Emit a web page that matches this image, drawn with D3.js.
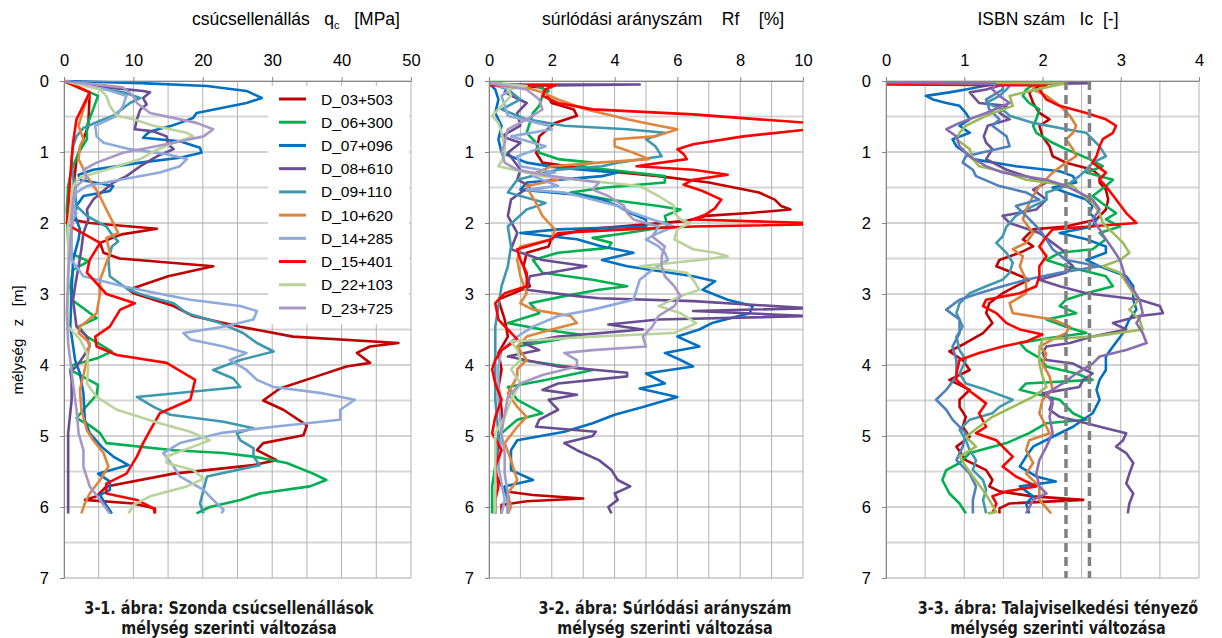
<!DOCTYPE html>
<html>
<head>
<meta charset="UTF-8">
<title>Szonda profilok</title>
<script src="https://d3js.org/d3.v7.min.js"></script>
<style>
  body { margin: 0; background: #fff; }
  svg text { font-family: "Liberation Sans", Arial, sans-serif; white-space: pre; }
</style>
</head>
<body>
<svg id="chart" width="1222" height="638"></svg>
<script>
// stations (legend order = drawing order)
const stations = ["D_03+503", "D_06+300", "D_07+096", "D_08+610", "D_09+110",
                  "D_10+620", "D_14+285", "D_15+401", "D_22+103", "D_23+725"];
const lineColors = ["#C00000", "#00B050", "#0070C0", "#6A4C93", "#3D98AE",
                    "#E0853D", "#8EAADB", "#FF0000", "#B8D39B", "#A898C6"];
const icColors   = ["#C00000", "#00B050", "#0070C0", "#6E5096", "#4198AF",
                    "#D8823C", "#4F81BD", "#FF0000", "#9BBB59", "#8A6DB0"];

const depthTicks = [0, 1, 2, 3, 4, 5, 6, 7];
const qcTicks = [0, 10, 20, 30, 40, 50];
const rfTicks = [0, 2, 4, 6, 8, 10];
const icTicks = [0, 1, 2, 3, 4];
const icLimits = [2.3, 2.6];

// ---- cone resistance qc [MPa], pairs of [depth m, value]
const qc_D03 = [[0,0],[0.16,3.7],[0.63,3.5],[0.9,2.5],[1.1,1.8],[1.57,1.3],[1.95,1.1],[2.0,3.7],[2.08,13.4],[2.16,8.3],[2.28,5.2],[2.42,5.7],[2.5,8],[2.61,21.5],[2.75,15],[2.94,9.3],[2.99,10],[3.17,15.8],[3.31,18.6],[3.46,25.4],[3.6,33],[3.69,48.2],[3.74,44.1],[3.83,42.2],[3.97,44.1],[4.02,40.7],[4.16,36.4],[4.33,31.1],[4.5,28.7],[4.63,31.6],[4.85,35],[4.99,34.5],[5.1,28.7],[5.2,27.8],[5.34,30.6],[5.41,27.3],[5.53,15.8],[5.71,6.1],[5.85,4.7],[5.9,3],[5.95,10],[6.02,13.1],[6.09,13.1]];
const qc_D06 = [[0,0],[0.21,4.9],[0.4,4.2],[0.63,3.3],[0.82,3.3],[1.01,2.1],[1.25,1.1],[1.48,0.6],[1.81,0.4],[2.28,0.6],[2.42,0.9],[2.54,3.5],[2.66,1.3],[2.89,0.9],[3.08,1.1],[3.2,2.8],[3.34,4.7],[3.46,2.1],[3.6,3.3],[3.71,5.2],[3.81,6.9],[3.9,4.9],[4.0,1.3],[4.07,0.9],[4.28,4.9],[4.42,4.7],[4.63,2.8],[4.75,1.8],[4.85,3.7],[4.96,5.2],[5.1,6.1],[5.2,15.8],[5.24,23],[5.29,27.3],[5.38,32.1],[5.53,35.9],[5.62,37.8],[5.71,35.4],[5.81,28.2],[5.9,25.4],[6.0,21],[6.09,19.1]];
const qc_D07 = [[0,0],[0.03,11],[0.07,20.6],[0.14,26.3],[0.24,28.5],[0.31,26.3],[0.45,19.1],[0.52,18.6],[0.59,16.7],[0.63,15.5],[0.71,12.4],[0.75,11.9],[0.8,11.4],[0.85,16.7],[0.94,19.6],[1.01,19.8],[1.08,16.7],[1.15,11],[1.25,4.2],[1.32,2.1],[1.39,2.3],[1.48,7.1],[1.55,6.6],[1.62,2.8],[1.76,1.8],[1.9,1.6],[2.09,2.3],[2.23,2.1],[2.52,1.3],[2.99,1.1],[3.46,0.9],[3.93,1.6],[4.12,2.3],[4.4,2.8],[4.77,3],[4.96,3.7],[5.15,5.4],[5.29,7.1],[5.41,9.3],[5.53,4.9],[5.64,6.6],[5.76,6.6],[5.83,5.2],[5.95,5.9],[6.09,6.9]];
const qc_D08 = [[0,0],[0.09,6.1],[0.14,11.4],[0.16,12.4],[0.24,11.4],[0.33,11.9],[0.4,11],[0.54,10.5],[0.68,10.2],[0.71,12.9],[0.78,14.8],[0.89,15],[0.96,15.8],[1.06,13.4],[1.2,11],[1.34,9],[1.43,7.1],[1.57,5.4],[1.67,4.2],[1.81,3.3],[1.95,3.5],[2.14,2.8],[2.37,2.5],[2.61,2.1],[2.89,1.6],[3.08,1.3],[3.46,1.8],[3.6,3.3],[3.74,3.7],[3.88,2.8],[4.02,1.8],[4.09,0.9],[4.21,1.1],[4.49,1.1],[4.96,0.6],[5.43,0.6],[6.09,0.6]];
const qc_D09 = [[0,0],[0.12,6.1],[0.16,8.5],[0.24,11],[0.31,9.5],[0.4,8.3],[0.49,7.1],[0.56,5.2],[0.66,2.8],[0.78,1.8],[0.92,1.3],[1.1,1.1],[1.34,1.3],[1.57,1.6],[1.76,1.8],[1.9,3.3],[2.05,6.1],[2.19,7.1],[2.26,7.8],[2.33,6.9],[2.52,6.4],[2.75,6.6],[2.94,9.3],[3.03,11.9],[3.13,15.8],[3.27,17.7],[3.41,22.5],[3.55,25.8],[3.69,27.8],[3.81,30.2],[3.93,25.4],[4.07,21.5],[4.19,24.4],[4.31,25.4],[4.45,10.5],[4.59,12.9],[4.7,15.3],[4.8,23],[4.89,27.3],[4.96,24.9],[5.06,25.4],[5.17,27.3],[5.29,27.3],[5.41,28.2],[5.57,20.6],[5.76,20.1],[5.95,19.6],[6.09,20.1]];
const qc_D10 = [[0,0],[0.16,3.7],[0.4,2.8],[0.63,2.1],[0.82,2.8],[0.92,2.3],[1.1,2.1],[1.34,3.3],[1.57,4.9],[1.81,6.1],[2.0,7.1],[2.14,7.8],[2.21,6.1],[2.42,6.6],[2.56,6.1],[2.8,5.2],[2.99,5.2],[3.27,4.7],[3.46,2.3],[3.55,2.1],[3.69,3.7],[3.93,3.3],[4.35,2.3],[4.63,2.5],[4.92,3.3],[5.06,4.2],[5.24,5.7],[5.43,6.4],[5.62,5.2],[5.81,3.7],[5.95,3],[6.09,2.5]];
const qc_D14 = [[0,0],[0.12,6.1],[0.21,9],[0.35,8.5],[0.49,7.6],[0.63,4.5],[0.78,4.7],[0.87,5.7],[0.96,9.5],[1.03,14.8],[1.1,17.7],[1.2,16.7],[1.29,13.8],[1.39,8.1],[1.48,3.3],[1.57,1.8],[1.72,1.3],[1.86,1.8],[1.95,1.3],[2.14,1.1],[2.52,1.1],[2.75,2.8],[2.89,8.5],[2.99,13.4],[3.08,18.2],[3.17,25.4],[3.24,27.8],[3.36,27.3],[3.46,23],[3.55,17.2],[3.64,18.2],[3.74,23],[3.83,26.3],[3.93,23.9],[4.07,26.3],[4.21,27.8],[4.31,30.2],[4.4,37.4],[4.49,41.9],[4.63,39.8],[4.77,39.8],[4.87,30.2],[4.96,22.5],[5.1,16.7],[5.24,14.3],[5.43,15.8],[5.57,16.7],[5.76,20.1],[5.9,21.5],[6.04,23],[6.09,22.7]];
const qc_D15 = [[0,0],[0.16,3.7],[0.54,1.8],[0.87,1.3],[1.34,0.9],[1.81,0.6],[2.0,0.4],[2.07,1.3],[2.28,5.2],[2.52,3.7],[2.7,3.3],[3.0,6.1],[3.13,10.2],[3.22,8.1],[3.46,6.6],[3.6,4.5],[3.74,4.7],[3.86,7.6],[3.97,14.8],[4.21,18.9],[4.49,18.2],[4.68,13.8],[4.92,12.4],[5.1,11.4],[5.29,10.5],[5.53,9],[5.67,6.1],[5.81,6.1],[5.9,10.5],[6.02,12.9],[6.09,13.1]];
const qc_D22 = [[0,0],[0.12,5.2],[0.21,6.1],[0.35,6.6],[0.49,7.6],[0.54,10],[0.63,12.9],[0.73,17.7],[0.78,18.6],[0.87,15.8],[0.99,12.9],[1.1,11],[1.25,6.1],[1.36,2.3],[1.48,1.3],[1.67,1.1],[2.05,0.6],[2.52,0.6],[2.99,0.6],[3.46,0.6],[3.64,2.3],[3.83,3.3],[4.02,3.5],[4.26,3.3],[4.45,4.7],[4.63,7.6],[4.82,13.8],[4.94,18.2],[5.06,21],[5.15,18.6],[5.29,14.8],[5.38,14.8],[5.48,18.6],[5.6,20.1],[5.71,17.7],[5.85,12.4],[5.97,10],[6.09,9.3]];
const qc_D23 = [[0,0],[0.09,8.5],[0.21,10],[0.31,10.5],[0.45,12.4],[0.59,19.1],[0.68,21.5],[0.78,20.1],[0.87,15.8],[1.01,8.5],[1.15,4.7],[1.25,2.8],[1.36,3.3],[1.48,1.8],[1.67,1.3],[1.95,1.1],[2.28,0.9],[2.75,0.6],[3.27,0.4],[3.69,0.6],[3.93,0.9],[4.26,1.3],[4.63,1.8],[4.96,2.1],[5.2,2.8],[5.43,2.8],[5.71,3.7],[5.9,5.2],[6.09,6.6]];

// ---- friction ratio Rf [%]
const rf_D03 = [[0.03,0],[0.09,1.7],[0.31,2.0],[0.4,2.7],[0.49,2.8],[0.59,2.1],[0.78,1.6],[1.01,1.5],[1.15,1.7],[1.25,3.3],[1.34,5.4],[1.43,7.0],[1.57,8.6],[1.67,9.1],[1.76,9.3],[1.81,9.6],[1.86,8.3],[1.9,6.9],[1.97,6.3],[2.02,5.0],[2.09,3.1],[2.19,2.0],[2.33,1.9],[2.42,1.2],[2.61,1.1],[2.89,1.3],[3.08,0.3],[3.36,0.5],[3.6,0.6],[3.83,0.3],[4.06,0.4],[4.31,0.3],[4.63,0.4],[4.91,0.4],[5.2,0.3],[5.53,0.2],[5.78,0.5],[5.83,1.4],[5.88,3.0],[5.92,1.2],[5.97,0.4],[6.09,0.4]];
const rf_D06 = [[0.03,0],[0.07,1.5],[0.14,1.9],[0.21,1.7],[0.35,1.6],[0.45,1.4],[0.59,1.3],[0.73,1.2],[0.87,1.5],[1.01,1.6],[1.1,2.2],[1.15,3.3],[1.2,2.8],[1.25,3.8],[1.34,5.6],[1.43,5.6],[1.5,3.7],[1.57,2.6],[1.67,3.8],[1.76,5.4],[1.81,6.1],[1.9,5.6],[2.05,5.7],[2.14,4.4],[2.21,3.3],[2.28,3.9],[2.35,3.8],[2.42,2.2],[2.52,1.4],[2.7,1.7],[2.8,3.3],[2.89,4.4],[2.94,3.5],[3.03,2.4],[3.13,1.3],[3.27,1.6],[3.41,0.6],[3.5,1.7],[3.57,2.9],[3.64,2.2],[3.74,0.9],[3.93,1.0],[4.07,3.3],[4.21,1.8],[4.31,0.6],[4.49,0.9],[4.68,1.7],[4.77,0.9],[4.96,0.4],[5.2,0.2],[5.43,0.2],[5.71,0.1],[5.9,0.1],[6.09,0.1]];
const rf_D07 = [[0.03,0],[0.12,0.2],[0.26,0.3],[0.45,0.2],[0.63,0.4],[0.82,0.3],[1.01,0.4],[1.15,1.2],[1.22,2.2],[1.29,4.1],[1.34,3.6],[1.43,1.2],[1.53,1.0],[1.6,2.8],[1.67,3.6],[1.76,4.1],[1.86,4.5],[1.95,5.0],[2.05,5.0],[2.09,2.2],[2.14,1.0],[2.23,2.8],[2.33,3.6],[2.42,4.6],[2.52,3.6],[2.61,4.4],[2.75,6.5],[2.82,7.2],[2.94,6.8],[3.08,7.6],[3.17,8.4],[3.27,8.3],[3.41,7.1],[3.5,6.7],[3.6,6.0],[3.74,6.7],[3.83,5.6],[3.93,6.1],[4.02,6.5],[4.12,5.0],[4.26,5.6],[4.33,4.8],[4.45,6.0],[4.59,4.9],[4.7,4.0],[4.82,3.3],[4.94,2.4],[5.06,0.9],[5.2,0.7],[5.48,0.7],[5.62,1.4],[5.71,0.5],[5.9,0.6],[6.09,0.6]];
const rf_D08 = [[0.05,0],[0.05,4.8],[0.07,0.6],[0.16,0.5],[0.31,1.2],[0.45,0.9],[0.63,1.0],[0.78,0.4],[0.87,1.0],[1.01,0.6],[1.25,1.0],[1.39,0.9],[1.48,1.3],[1.67,0.7],[1.9,0.6],[2.14,0.9],[2.37,0.7],[2.52,1.7],[2.61,3.1],[2.75,1.3],[2.94,1.2],[3.03,2.8],[3.06,3.5],[3.1,6.5],[3.2,10.2],[3.24,6.5],[3.31,10.2],[3.36,5.4],[3.43,3.8],[3.5,4.9],[3.6,2.2],[3.69,1.1],[3.79,1.6],[3.88,0.6],[4.02,2.2],[4.11,4.4],[4.16,4.4],[4.26,2.2],[4.35,1.7],[4.42,2.8],[4.49,1.9],[4.63,2.2],[4.77,1.6],[4.87,1.5],[4.94,3.4],[5.0,3.3],[5.1,2.4],[5.2,2.8],[5.34,3.5],[5.48,3.9],[5.62,4.1],[5.71,4.5],[5.81,4.0],[5.9,4.1],[6.0,3.8],[6.09,3.9]];
const rf_D09 = [[0.03,0],[0.12,0.6],[0.26,1.0],[0.4,0.4],[0.54,1.2],[0.63,2.4],[0.68,4.4],[0.73,5.6],[0.82,5.0],[0.92,5.3],[1.06,5.5],[1.15,4.1],[1.2,3.6],[1.25,2.2],[1.39,0.9],[1.57,0.6],[1.72,1.8],[1.81,1.2],[2.05,0.6],[2.33,0.7],[2.61,0.6],[2.89,0.4],[3.17,0.3],[3.46,0.2],[3.83,0.2],[4.06,0.2],[4.49,0.2],[4.96,0.3],[5.43,0.2],[5.81,0.2],[6.09,0.2]];
const rf_D10 = [[0.03,0],[0.07,1.0],[0.16,1.7],[0.26,2.2],[0.4,3.1],[0.54,4.4],[0.63,5.4],[0.68,6.0],[0.78,5.3],[0.82,4.0],[0.92,4.0],[1.01,4.6],[1.1,5.1],[1.15,3.5],[1.2,2.0],[1.29,1.5],[1.39,2.2],[1.48,1.2],[1.57,1.3],[1.72,1.5],[1.9,1.7],[2.09,2.1],[2.23,2.0],[2.33,1.0],[2.52,0.9],[2.75,1.0],[2.99,1.2],[3.13,1.0],[3.22,1.4],[3.31,2.6],[3.41,2.8],[3.5,2.0],[3.6,1.2],[3.74,0.9],[3.93,1.2],[4.06,0.9],[4.16,0.9],[4.4,0.6],[4.59,0.9],[4.73,1.2],[4.87,0.9],[5.1,0.5],[5.34,0.7],[5.62,0.9],[5.81,0.6],[6.0,0.7],[6.09,0.6]];
const rf_D14 = [[0.03,0],[0.12,0.7],[0.21,0.4],[0.35,0.5],[0.49,0.6],[0.63,1.9],[0.68,2.0],[0.78,0.7],[0.92,1.8],[1.06,0.9],[1.2,1.0],[1.29,2.1],[1.34,1.4],[1.48,2.2],[1.53,1.2],[1.57,2.4],[1.67,3.3],[1.76,4.1],[1.86,4.6],[1.95,5.2],[2.05,5.9],[2.14,5.4],[2.23,5.0],[2.33,5.4],[2.42,5.6],[2.52,5.7],[2.66,5.2],[2.8,4.8],[2.94,4.7],[3.08,4.6],[3.22,3.3],[3.31,2.2],[3.46,1.4],[3.6,0.9],[3.79,0.4],[4.02,0.3],[4.49,0.3],[4.96,0.4],[5.43,0.3],[5.9,0.5],[6.09,0.4]];
const rf_D15 = [[0.06,0],[0.06,2.1],[0.12,1.8],[0.21,1.7],[0.31,2.2],[0.4,3.3],[0.47,6.5],[0.54,8.6],[0.59,10.2],[0.68,10.2],[0.78,8.1],[0.89,6.5],[0.96,6.0],[1.03,6.2],[1.1,6.3],[1.18,5.0],[1.2,4.7],[1.25,6.5],[1.32,7.6],[1.39,6.5],[1.46,6.2],[1.55,6.8],[1.67,7.4],[1.79,7.2],[1.88,6.9],[1.95,6.5],[2.0,10.2],[2.02,10.2],[2.05,6.5],[2.09,4.4],[2.14,2.2],[2.23,2.0],[2.37,0.9],[2.52,1.0],[2.7,1.2],[2.89,1.2],[2.99,0.5],[3.13,0.2],[3.36,0.3],[3.5,0.6],[3.64,0.9],[3.79,0.4],[3.93,0.2],[4.06,0.1],[4.26,0.2],[4.49,0.4],[4.73,0.2],[4.96,0.1],[5.2,0.4],[5.43,0.2],[5.71,0.3],[5.9,0.2],[6.09,0.2]];
const rf_D22 = [[0.03,0],[0.07,1.2],[0.12,0.6],[0.21,0.7],[0.35,0.4],[0.49,0.1],[0.59,0.3],[0.73,0.4],[0.92,0.5],[1.06,0.5],[1.2,0.3],[1.34,1.7],[1.48,4.8],[1.62,5.4],[1.76,5.9],[1.86,5.9],[1.95,6.1],[2.0,6.4],[2.09,6.0],[2.23,5.9],[2.37,6.5],[2.42,7.2],[2.47,7.6],[2.52,6.7],[2.61,4.8],[2.7,6.3],[2.8,6.5],[2.94,6.7],[3.03,6.1],[3.17,5.4],[3.27,6.1],[3.41,6.6],[3.55,5.9],[3.6,3.3],[3.67,0.7],[3.79,0.9],[3.93,1.0],[4.06,0.7],[4.26,1.0],[4.49,0.7],[4.73,0.5],[4.96,0.2],[5.2,0.2],[5.43,0.2],[5.71,0.2],[6.09,0.2]];
const rf_D23 = [[0.03,0],[0.12,1.2],[0.26,1.6],[0.4,1.7],[0.54,1.2],[0.68,0.6],[0.87,0.5],[1.01,0.4],[1.15,0.5],[1.25,0.9],[1.34,2.0],[1.43,3.5],[1.53,3.3],[1.62,3.8],[1.76,4.3],[1.86,4.4],[1.95,4.6],[2.05,5.4],[2.19,5.2],[2.33,5.6],[2.47,5.5],[2.61,5.5],[2.75,5.6],[2.89,5.9],[3.03,6.1],[3.17,5.9],[3.31,5.4],[3.46,5.2],[3.6,4.9],[3.74,5.0],[3.79,3.3],[3.83,2.4],[3.93,2.8],[4.02,2.8],[4.14,1.7],[4.26,1.0],[4.45,0.6],[4.68,0.5],[4.96,0.4],[5.24,0.5],[5.53,0.5],[5.81,0.6],[6.09,0.6]];

// ---- soil behaviour type index Ic [-]
const ic_D03 = [[0.02,0],[0.04,2.0],[0.16,1.83],[0.31,1.88],[0.45,1.96],[0.54,2.09],[0.63,1.96],[0.78,2.0],[0.92,2.09],[1.06,2.13],[1.15,2.3],[1.25,2.64],[1.34,2.73],[1.43,2.73],[1.53,2.81],[1.67,2.84],[1.81,2.81],[1.95,2.69],[2.05,2.3],[2.09,1.88],[2.23,1.75],[2.33,1.88],[2.42,1.71],[2.52,1.45],[2.61,1.41],[2.7,1.62],[2.8,1.83],[2.89,1.66],[2.99,1.49],[3.13,1.32],[3.27,1.28],[3.41,1.36],[3.55,1.24],[3.69,1.02],[3.81,0.81],[3.93,0.98],[4.07,1.07],[4.21,0.81],[4.35,1.07],[4.49,0.94],[4.59,0.94],[4.73,1.02],[4.87,0.98],[5.01,1.07],[5.15,0.9],[5.34,1.02],[5.48,1.28],[5.62,1.36],[5.71,1.32],[5.78,1.45],[5.85,1.88],[5.9,2.52],[5.95,1.58],[6.02,1.45],[6.09,1.45]];
const ic_D06 = [[0.02,0],[0.04,1.9],[0.12,1.79],[0.21,1.75],[0.31,1.83],[0.4,1.96],[0.54,1.92],[0.63,1.88],[0.73,1.92],[0.87,2.13],[0.96,2.3],[1.1,2.6],[1.2,2.77],[1.29,2.56],[1.39,2.9],[1.48,2.81],[1.62,2.64],[1.76,2.81],[1.86,2.94],[1.95,2.81],[2.05,2.99],[2.14,2.73],[2.23,2.81],[2.37,2.64],[2.42,2.22],[2.52,2.05],[2.61,2.3],[2.75,2.81],[2.89,2.9],[2.99,2.56],[3.08,2.3],[3.17,2.22],[3.27,2.43],[3.36,2.05],[3.46,2.3],[3.55,2.56],[3.62,2.09],[3.69,1.71],[3.79,1.79],[3.9,1.96],[4.02,2.05],[4.12,2.43],[4.21,2.64],[4.26,1.79],[4.35,1.71],[4.49,2.22],[4.68,2.39],[4.77,2.56],[4.82,2.05],[4.96,1.83],[5.1,1.54],[5.24,1.07],[5.38,0.94],[5.48,0.77],[5.62,0.72],[5.81,0.81],[5.95,0.94],[6.09,1.02]];
const ic_D07 = [[0.02,0],[0.04,1.4],[0.12,1.02],[0.16,0.81],[0.21,0.51],[0.26,0.6],[0.31,0.77],[0.35,0.94],[0.45,1.02],[0.54,1.07],[0.63,0.94],[0.73,1.07],[0.82,0.85],[0.92,0.9],[1.01,1.02],[1.1,1.11],[1.2,1.66],[1.27,2.22],[1.34,2.39],[1.43,2.43],[1.5,2.13],[1.57,2.3],[1.67,2.56],[1.76,2.64],[1.86,2.6],[1.95,2.69],[2.05,2.64],[2.14,2.22],[2.23,2.56],[2.33,2.81],[2.42,2.81],[2.52,2.56],[2.61,2.73],[2.75,3.07],[2.89,3.16],[3.08,3.16],[3.22,3.2],[3.36,3.11],[3.55,3.03],[3.74,2.9],[3.88,2.81],[4.07,2.81],[4.21,2.73],[4.35,2.69],[4.49,2.73],[4.68,2.64],[4.87,2.39],[5.01,2.13],[5.15,1.88],[5.29,1.79],[5.43,1.71],[5.57,1.92],[5.64,2.17],[5.71,1.71],[5.85,1.88],[5.95,1.79],[6.09,1.83]];
const ic_D08 = [[0.02,0],[0.03,2.6],[0.05,1.5],[0.12,1.28],[0.16,1.07],[0.21,1.11],[0.31,1.19],[0.35,1.54],[0.45,1.45],[0.54,1.58],[0.63,1.3],[0.78,1.25],[0.87,1.28],[0.96,1.36],[1.1,1.28],[1.25,1.54],[1.34,1.79],[1.43,2.05],[1.53,1.88],[1.67,2.05],[1.81,1.92],[1.9,1.49],[2.0,1.58],[2.14,1.96],[2.28,2.13],[2.42,2.3],[2.52,2.3],[2.61,2.39],[2.7,2.3],[2.8,1.96],[2.89,2.22],[2.99,2.56],[3.08,3.24],[3.17,3.5],[3.27,3.54],[3.31,3.24],[3.41,2.9],[3.5,3.07],[3.6,2.64],[3.69,2.35],[3.74,2.05],[3.83,2.0],[3.93,2.05],[3.98,2.39],[4.12,2.64],[4.21,2.52],[4.31,2.47],[4.4,2.0],[4.49,2.13],[4.63,2.09],[4.73,2.22],[4.82,2.56],[4.89,2.81],[4.96,3.07],[5.06,3.03],[5.15,2.94],[5.24,3.07],[5.38,3.16],[5.53,3.11],[5.67,3.07],[5.81,3.16],[5.95,3.11],[6.09,3.09]];
const ic_D09 = [[0.02,0],[0.04,1.6],[0.12,1.54],[0.21,1.45],[0.31,1.28],[0.4,1.49],[0.49,1.58],[0.59,1.88],[0.68,2.3],[0.73,2.56],[0.82,2.64],[0.92,2.73],[1.06,2.81],[1.15,2.64],[1.25,2.56],[1.34,2.47],[1.48,2.3],[1.57,2.05],[1.67,2.05],[1.76,1.88],[1.9,1.66],[2.05,1.54],[2.19,1.49],[2.28,1.41],[2.42,1.54],[2.56,1.62],[2.7,1.58],[2.8,1.49],[2.89,1.28],[2.99,1.07],[3.13,0.94],[3.27,0.9],[3.46,0.98],[3.6,0.9],[3.79,0.94],[3.93,1.02],[4.12,0.94],[4.26,1.02],[4.35,1.28],[4.49,1.62],[4.59,1.45],[4.68,1.36],[4.77,1.07],[4.91,0.94],[5.06,1.02],[5.2,1.07],[5.34,1.15],[5.48,1.11],[5.62,1.24],[5.76,1.28],[5.9,1.24],[6.09,1.28]];
const ic_D10 = [[0.02,0],[0.04,1.9],[0.12,1.88],[0.21,2.05],[0.35,2.22],[0.49,2.35],[0.63,2.43],[0.73,2.39],[0.82,2.3],[0.96,2.39],[1.06,2.43],[1.15,2.3],[1.29,2.13],[1.48,1.96],[1.62,1.88],[1.81,1.79],[1.95,1.75],[2.14,1.88],[2.28,1.79],[2.37,1.62],[2.47,1.75],[2.61,1.71],[2.8,1.79],[2.99,1.79],[3.13,1.58],[3.27,1.62],[3.36,2.13],[3.46,2.35],[3.55,2.3],[3.64,2.13],[3.74,1.96],[3.84,2.05],[3.98,2.0],[4.16,2.09],[4.35,2.13],[4.49,2.0],[4.68,1.96],[4.87,2.05],[4.96,2.09],[5.06,1.83],[5.2,1.79],[5.38,1.88],[5.53,1.79],[5.71,1.96],[5.9,1.96],[6.09,2.11]];
const ic_D14 = [[0.02,0],[0.04,1.5],[0.12,1.49],[0.26,1.28],[0.4,1.32],[0.54,1.45],[0.63,1.36],[0.78,1.54],[0.92,1.58],[1.06,1.02],[1.15,0.98],[1.25,1.11],[1.34,1.15],[1.48,1.45],[1.57,1.79],[1.67,1.96],[1.76,1.66],[1.9,1.79],[2.0,1.88],[2.09,1.96],[2.23,2.05],[2.37,2.13],[2.52,2.3],[2.61,2.73],[2.7,2.22],[2.8,1.79],[2.89,1.49],[2.99,1.19],[3.08,0.94],[3.22,0.77],[3.36,0.94],[3.55,0.94],[3.74,0.85],[3.93,0.9],[4.16,0.9],[4.35,0.77],[4.49,0.64],[4.63,0.77],[4.77,0.85],[4.96,1.02],[5.15,0.98],[5.34,0.9],[5.53,1.07],[5.71,1.15],[5.9,1.11],[6.09,1.11]];
const ic_D15 = [[0.05,0],[0.06,2.05],[0.12,1.96],[0.26,2.05],[0.35,2.22],[0.45,2.56],[0.54,2.81],[0.63,2.94],[0.73,2.9],[0.82,2.77],[0.92,2.73],[1.06,2.69],[1.15,2.64],[1.29,2.81],[1.39,2.73],[1.48,2.81],[1.67,2.94],[1.86,3.07],[2.0,3.2],[2.05,2.6],[2.09,2.13],[2.19,2.05],[2.33,1.96],[2.47,2.05],[2.61,1.96],[2.75,1.96],[2.89,1.92],[2.99,1.71],[3.08,1.28],[3.17,1.24],[3.27,1.41],[3.41,1.54],[3.5,1.71],[3.57,2.0],[3.67,1.79],[3.74,1.49],[3.83,1.19],[3.93,0.94],[4.12,0.9],[4.21,0.9],[4.4,1.11],[4.54,1.28],[4.68,1.19],[4.87,1.28],[4.96,1.15],[5.06,1.41],[5.15,1.49],[5.29,1.62],[5.43,1.49],[5.57,1.66],[5.71,1.92],[5.78,1.54],[5.85,1.36],[5.95,1.41],[6.09,1.36]];
const ic_D22 = [[0.02,0],[0.03,2.3],[0.12,1.92],[0.21,1.58],[0.35,1.62],[0.49,1.28],[0.63,1.02],[0.73,0.94],[0.82,0.9],[0.96,1.07],[1.1,1.11],[1.2,1.19],[1.29,1.54],[1.39,1.79],[1.48,2.39],[1.57,2.47],[1.72,2.64],[1.86,2.73],[2.0,2.77],[2.14,2.9],[2.28,3.03],[2.42,3.11],[2.52,2.99],[2.61,2.77],[2.7,2.99],[2.84,3.07],[2.99,3.16],[3.08,3.24],[3.22,3.11],[3.36,3.24],[3.5,3.28],[3.6,2.64],[3.64,2.0],[3.79,1.96],[3.98,1.96],[4.16,2.0],[4.31,2.05],[4.45,1.88],[4.59,1.62],[4.73,1.36],[4.87,1.19],[5.01,1.02],[5.15,1.15],[5.29,0.94],[5.43,1.02],[5.57,1.11],[5.76,1.24],[5.9,1.32],[6.07,1.41],[6.09,1.3]];
const ic_D23 = [[0.02,0],[0.04,1.4],[0.12,1.36],[0.21,1.45],[0.31,1.58],[0.45,1.28],[0.59,0.94],[0.68,0.77],[0.78,0.9],[0.92,0.94],[1.06,1.07],[1.2,1.28],[1.29,1.49],[1.39,2.05],[1.48,2.3],[1.57,2.47],[1.67,2.64],[1.81,2.73],[1.95,2.64],[2.09,2.73],[2.23,2.81],[2.37,2.9],[2.52,2.99],[2.66,3.03],[2.8,3.07],[2.94,3.16],[3.08,3.24],[3.27,3.28],[3.41,3.2],[3.55,3.28],[3.69,3.33],[3.79,3.07],[3.88,2.73],[3.98,2.64],[4.12,2.43],[4.26,2.26],[4.4,2.05],[4.54,2.13],[4.73,2.09],[4.96,2.13],[5.15,2.05],[5.34,1.96],[5.53,1.92],[5.71,1.96],[5.81,2.05],[5.9,1.88],[6.09,1.79]];

const qcData = [qc_D03, qc_D06, qc_D07, qc_D08, qc_D09, qc_D10, qc_D14, qc_D15, qc_D22, qc_D23];
const rfData = [rf_D03, rf_D06, rf_D07, rf_D08, rf_D09, rf_D10, rf_D14, rf_D15, rf_D22, rf_D23];
const icData = [ic_D03, ic_D06, ic_D07, ic_D08, ic_D09, ic_D10, ic_D14, ic_D15, ic_D22, ic_D23];

const svg = d3.select("#chart");
const plotTop = 81, plotBottom = 578;
const capFont = "'Liberation Sans Narrow', 'DejaVu Sans Condensed', sans-serif";

// draws one depth profile panel
function drawPanel(p) {
  const x = d3.scaleLinear().domain([0, p.max]).range([p.left, p.right]);
  const y = d3.scaleLinear().domain([0, 7]).range([plotTop, plotBottom]);
  const g = svg.append("g");

  // horizontal grid, half metres lighter and thicker
  g.selectAll(".hg").data(d3.range(0, 7.01, 0.5)).enter().append("line")
    .attr("x1", p.left).attr("x2", p.right)
    .attr("y1", d => y(d)).attr("y2", d => y(d))
    .attr("stroke", d => (d % 1 === 0) ? "#a6a6a6" : "#d6d6d6")
    .attr("stroke-width", d => (d % 1 === 0) ? 1 : 2);

  // vertical grid
  g.selectAll(".vg").data(d3.range(0, p.max + 1e-9, p.gridStep)).enter().append("line")
    .attr("x1", d => x(d)).attr("x2", d => x(d))
    .attr("y1", plotTop).attr("y2", plotBottom)
    .attr("stroke", "#b3b3b3").attr("stroke-width", 1);

  // legend box sits over the grid
  if (p.legend) {
    g.append("rect").attr("x", 268).attr("y", 86).attr("width", 141).attr("height", 238)
      .attr("fill", "#fff");
  }

  const clipId = "clip" + p.left;
  svg.append("clipPath").attr("id", clipId).append("rect")
    .attr("x", p.left).attr("y", plotTop - 2).attr("width", p.right - p.left)
    .attr("height", plotBottom - plotTop + 2);

  const line = d3.line().x(d => x(d[1])).y(d => y(d[0]));
  g.append("g").attr("clip-path", "url(#" + clipId + ")")
    .selectAll("path").data(p.data).enter().append("path")
    .attr("d", line)
    .attr("fill", "none")
    .attr("stroke", (d, i) => p.colors[i])
    .attr("stroke-width", 2.6)
    .attr("stroke-linejoin", "round");

  // limit lines for Ic
  if (p.limits) {
    g.selectAll(".lim").data(p.limits).enter().append("line")
      .attr("x1", d => x(d)).attr("x2", d => x(d))
      .attr("y1", y(0)).attr("y2", y(7))
      .attr("stroke", "#808080").attr("stroke-width", 3.5)
      .attr("stroke-dasharray", "9,5");
  }

  // axes
  const xAxis = g.append("g").attr("transform", "translate(0," + plotTop + ")")
    .call(d3.axisTop(x).tickValues(p.ticks).tickFormat(d3.format("d"))
      .tickSize(4).tickSizeOuter(0).tickPadding(11));
  const yAxis = g.append("g").attr("transform", "translate(" + p.left + ",0)")
    .call(d3.axisLeft(y).tickValues(depthTicks).tickFormat(d3.format("d"))
      .tickSize(4).tickSizeOuter(0).tickPadding(11));
  [xAxis, yAxis].forEach(a => {
    a.select(".domain").attr("stroke", "#868686");
    a.selectAll(".tick line").attr("stroke", "#868686");
    a.selectAll("text").attr("font-size", "16.5px").attr("fill", "#000")
      .attr("font-family", "Liberation Sans, Arial, sans-serif");
  });

  // title above the axis
  const t = svg.append("text").attr("x", p.titleX).attr("y", 25)
    .attr("text-anchor", "middle").attr("font-size", "17.5px").attr("fill", "#000");
  t.append("tspan").text(p.title[0]);
  if (p.title[1]) {
    t.append("tspan").attr("font-size", "11px").attr("dy", 4).text(p.title[1]);
    t.append("tspan").attr("dy", -4).text(p.title[2]);
  }

  // caption below, condensed bold, stretched a little vertically
  p.caption.forEach((c, k) => {
    svg.append("text")
      .attr("transform", "translate(" + p.capX + "," + (k === 0 ? 614 : 634) + ") scale(1,1.15)")
      .attr("text-anchor", "middle")
      .attr("font-weight", "bold").attr("font-size", "16px").attr("fill", "#1a1a1a")
      .style("font-family", capFont)
      .text(c);
  });
}

drawPanel({
  data: qcData, colors: lineColors, max: 50, left: 64, right: 411, gridStep: 5, ticks: qcTicks,
  title: ["csúcsellenállás   q", "c", "   [MPa]"], titleX: 296, legend: true,
  caption: ["3-1. ábra: Szonda csúcsellenállások", "mélység szerinti változása"], capX: 229
});
drawPanel({
  data: rfData, colors: lineColors, max: 10, left: 489, right: 803, gridStep: 1, ticks: rfTicks,
  title: ["súrlódási arányszám    Rf    [%]"], titleX: 663,
  caption: ["3-2. ábra: Súrlódási arányszám", "mélység szerinti változása"], capX: 665
});
drawPanel({
  data: icData, colors: icColors, max: 4, left: 886, right: 1199, gridStep: 0.5, ticks: icTicks,
  title: ["ISBN szám   Ic  [-]"], titleX: 1048, limits: icLimits,
  caption: ["3-3. ábra: Talajviselkedési tényező", "mélység szerinti változása"], capX: 1058
});

// depth axis label
svg.append("text").attr("transform", "translate(23,340) rotate(-90)")
  .attr("text-anchor", "middle").attr("font-size", "15px").attr("fill", "#000")
  .text("mélység   z   [m]");

// legend of the first panel
const legend = svg.append("g");
const rowY = d3.scaleLinear().domain([0, 9]).range([99, 308]);
stations.forEach((s, i) => {
  legend.append("line").attr("x1", 279).attr("x2", 306)
    .attr("y1", rowY(i)).attr("y2", rowY(i))
    .attr("stroke", lineColors[i]).attr("stroke-width", 3);
  legend.append("text").attr("x", 321).attr("y", rowY(i) + 5.5)
    .attr("font-size", "15.5px").attr("fill", "#000").text(s);
});
</script>
</body>
</html>
